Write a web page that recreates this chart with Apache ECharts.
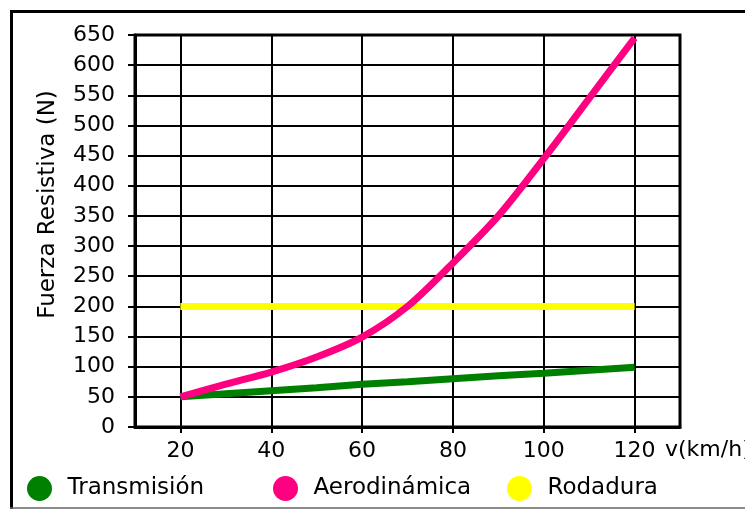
<!DOCTYPE html>
<html>
<head>
<meta charset="utf-8">
<script src="https://cdn.jsdelivr.net/npm/echarts@6/dist/echarts.min.js"></script>
<style>
  html, body { margin: 0; padding: 0; background: #fff; }
  #chart { width: 745px; height: 510px; }
</style>
</head>
<body>
<div id="chart"></div>
<script>
// Data
var speeds = [20, 30, 40, 50, 60, 70, 80, 90, 100, 110, 120];   // v (km/h)
var transmision = [50, 55, 60, 65, 71, 75, 80, 85, 89, 94, 99];
var aerodinamica = [50, 71, 91, 116, 149, 200, 272, 350, 445, 545, 645];
var rodadura = [200, 200, 200, 200, 200, 200, 200, 200, 200, 200, 200];
var xTicks = [20, 40, 60, 80, 100, 120];
var seriesNames = ['Transmisión', 'Aerodinámica', 'Rodadura'];

function pairs(vals) {
  return speeds.map(function (s, i) { return [s, vals[i]]; });
}

var FONT = 'DejaVu Sans';
var chart = echarts.init(document.getElementById('chart'), null, { renderer: 'canvas' });

var legendLefts = [27, 273, 507];
var legends = seriesNames.map(function (n, i) {
  return {
    data: [n],
    left: legendLefts[i],
    top: 476,
    padding: 0,
    icon: 'circle',
    itemWidth: 46,
    itemHeight: 25,
    selectedMode: false,
    textStyle: { fontFamily: FONT, fontSize: 23, color: '#000' }
  };
});

var option = {
  backgroundColor: '#fff',
  animation: false,
  color: ['#008000', '#ff0080', '#ffff00'],
  legend: legends,
  grid: {
    left: 135, top: 35, width: 545, height: 392,
    show: true, borderColor: '#000', borderWidth: 3, backgroundColor: '#fff',
    containLabel: false
  },
  xAxis: {
    type: 'value',
    min: 10, max: 130,
    axisLine: { show: true, onZero: false, lineStyle: { color: '#000', width: 3 } },
    axisTick: { show: true, length: 6, customValues: xTicks, lineStyle: { color: '#000', width: 2 } },
    axisLabel: { customValues: xTicks, margin: 13, color: '#000', fontFamily: FONT, fontSize: 22 },
    splitLine: { show: true, customValues: xTicks, lineStyle: { color: '#000', width: 2 } }
  },
  yAxis: {
    type: 'value',
    min: 0, max: 650, interval: 50,
    name: 'Fuerza Resistiva (N)',
    nameLocation: 'middle',
    nameGap: 75,
    nameTextStyle: { fontFamily: FONT, fontSize: 23, color: '#000', padding: [0, 0, 0, 53] },
    axisLine: { show: true, lineStyle: { color: '#000', width: 3 } },
    axisTick: { show: true, length: 7, lineStyle: { color: '#000', width: 2 } },
    axisLabel: { margin: 20, color: '#000', fontFamily: FONT, fontSize: 22 },
    splitLine: { show: true, lineStyle: { color: '#000', width: 2 } }
  },
  graphic: [
    { type: 'line', shape: { x1: 11.5, y1: 11, x2: 11.5, y2: 509 }, style: { stroke: '#000', lineWidth: 3 } },
    { type: 'line', shape: { x1: 10, y1: 11.5, x2: 760, y2: 11.5 }, style: { stroke: '#000', lineWidth: 3 } },
    { type: 'line', shape: { x1: 10, y1: 508, x2: 760, y2: 508 }, style: { stroke: '#666', lineWidth: 1.5 } },
    { type: 'text', left: 665, top: 439, style: { text: 'v(km/h)', font: '22px "DejaVu Sans"', fill: '#000' } }
  ],
  series: [
    { name: seriesNames[0], type: 'line', data: pairs(transmision), showSymbol: false, z: 3,
      lineStyle: { width: 7, color: '#008000' } },
    { name: seriesNames[1], type: 'line', data: pairs(aerodinamica), showSymbol: false, z: 4,
      smooth: 0.3,
      lineStyle: { width: 7, color: '#ff0080' } },
    { name: seriesNames[2], type: 'line', data: pairs(rodadura), showSymbol: false, z: 2,
      lineStyle: { width: 7, color: '#ffff00' } }
  ]
};
chart.setOption(option);
</script>
</body>
</html>
